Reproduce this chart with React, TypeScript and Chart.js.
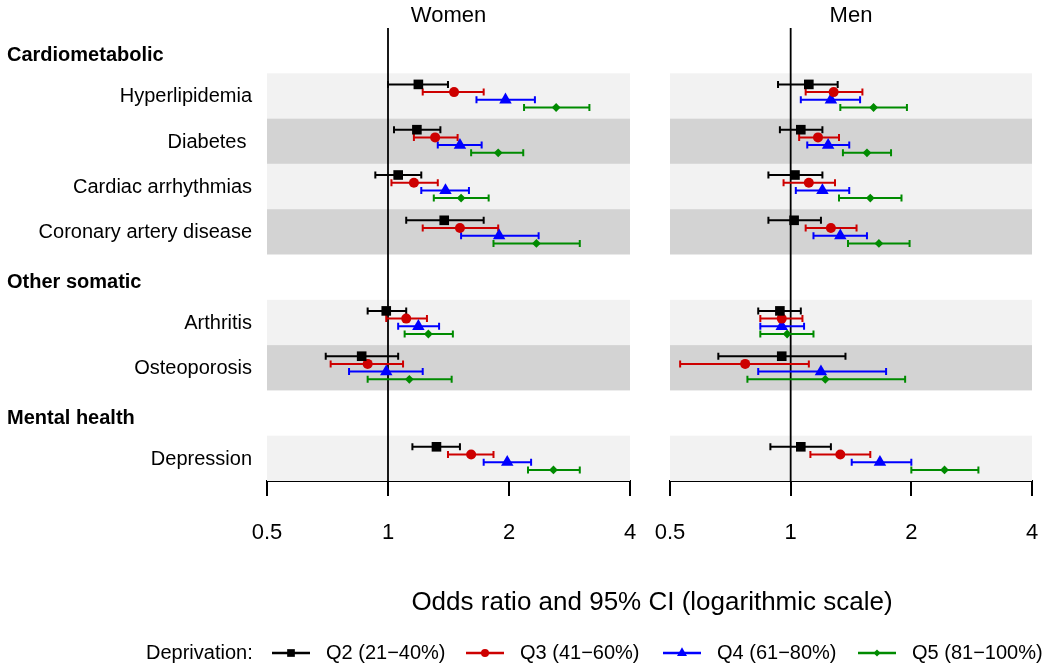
import React, { useEffect, useRef } from "react";
import { Chart, registerables } from "chart.js";

Chart.register(...registerables);

const FONT = "'Liberation Sans', Arial, Helvetica, sans-serif";

// ---------------- data ----------------
const panelTitles = ["Women", "Men"];
const groupLabels = ["Cardiometabolic", "Other somatic", "Mental health"];
const groupRows = [0, 5, 8];
const conditionLabels = [
  "Hyperlipidemia",
  "Diabetes ",
  "Cardiac arrhythmias",
  "Coronary artery disease",
  "Arthritis",
  "Osteoporosis",
  "Depression",
];
const conditionRows = [1, 2, 3, 4, 6, 7, 9];
const quintileLabels = ["Q2 (21−40%)", "Q3 (41−60%)", "Q4 (61−80%)", "Q5 (81−100%)"];
const tickValues = [0.5, 1, 2, 4];
const legendTitle = "Deprivation:";
const axisTitle = "Odds ratio and 95% CI (logarithmic scale)";

// rows: quintile Q2..Q5, columns: conditions in conditionLabels order
const womenOR = [
  [1.19, 1.18, 1.06, 1.38, 0.99, 0.86, 1.32],
  [1.46, 1.31, 1.16, 1.51, 1.11, 0.89, 1.61],
  [1.96, 1.51, 1.39, 1.89, 1.19, 0.99, 1.98],
  [2.62, 1.88, 1.52, 2.34, 1.26, 1.13, 2.58],
];
const womenLower = [
  [1.0, 1.035, 0.93, 1.11, 0.89, 0.7, 1.15],
  [1.22, 1.16, 1.02, 1.22, 0.99, 0.72, 1.41],
  [1.66, 1.33, 1.21, 1.52, 1.06, 0.8, 1.73],
  [2.18, 1.61, 1.3, 1.83, 1.1, 0.89, 2.23],
];
const womenUpper = [
  [1.41, 1.35, 1.21, 1.73, 1.11, 1.06, 1.51],
  [1.73, 1.49, 1.33, 1.88, 1.25, 1.09, 1.83],
  [2.32, 1.71, 1.59, 2.37, 1.34, 1.22, 2.27],
  [3.17, 2.17, 1.78, 3.0, 1.45, 1.44, 3.0],
];
const menOR = [
  [1.11, 1.06, 1.025, 1.02, 0.94, 0.95, 1.06],
  [1.28, 1.17, 1.11, 1.26, 0.95, 0.77, 1.33],
  [1.26, 1.24, 1.2, 1.33, 0.95, 1.19, 1.67],
  [1.61, 1.55, 1.58, 1.66, 0.98, 1.22, 2.42],
];
const menLower = [
  [0.93, 0.94, 0.88, 0.88, 0.83, 0.66, 0.89],
  [1.09, 1.05, 0.96, 1.09, 0.84, 0.53, 1.12],
  [1.06, 1.1, 1.03, 1.14, 0.84, 0.83, 1.42],
  [1.33, 1.35, 1.32, 1.39, 0.84, 0.78, 2.0],
];
const menUpper = [
  [1.31, 1.2, 1.2, 1.19, 1.06, 1.37, 1.26],
  [1.51, 1.32, 1.29, 1.46, 1.07, 1.11, 1.58],
  [1.49, 1.4, 1.4, 1.55, 1.08, 1.73, 2.0],
  [1.95, 1.78, 1.89, 1.98, 1.14, 1.93, 2.94],
];

// ---------------- styles ----------------
const seriesColors = ["#000000", "#CD0000", "#0000FF", "#008B00"];
const pointStyles = ["rect", "circle", "triangle", "rectRot"];
const pointRadii = [6.8, 5, 7.2, 4.4];
const rowOffsets = [-0.255, -0.085, 0.085, 0.255];
const bandColors = ["#F2F2F2", "#D3D3D3"];
const W = 1050;
const H = 668;
const AREA_TOP = 28;
const AREA_BOTTOM = 481;

function drawMarker(ctx, style, x, y, r, color) {
  ctx.save();
  ctx.fillStyle = color;
  ctx.beginPath();
  if (style === "rect") {
    const s = Math.SQRT1_2 * r;
    ctx.rect(x - s, y - s, 2 * s, 2 * s);
  } else if (style === "circle") {
    ctx.arc(x, y, r, 0, Math.PI * 2);
  } else if (style === "triangle") {
    for (let k = 0; k < 3; k++) {
      const a = (k * 2 * Math.PI) / 3;
      const px = x + Math.sin(a) * r;
      const py = y - Math.cos(a) * r;
      if (k === 0) ctx.moveTo(px, py);
      else ctx.lineTo(px, py);
    }
    ctx.closePath();
  } else {
    ctx.moveTo(x - r, y);
    ctx.lineTo(x, y - r);
    ctx.lineTo(x + r, y);
    ctx.lineTo(x, y + r);
    ctx.closePath();
  }
  ctx.fill();
  ctx.restore();
}

const panelPlugin = {
  id: "panelPlugin",
  beforeDatasetsDraw(chart) {
    const { ctx, chartArea } = chart;
    const xs = chart.scales.x;
    const ys = chart.scales.y;
    ctx.save();
    // bands
    conditionRows.forEach((row, i) => {
      const y0 = ys.getPixelForValue(row - 0.5);
      const y1 = ys.getPixelForValue(row + 0.5);
      ctx.fillStyle = bandColors[i % 2];
      ctx.fillRect(chartArea.left, y0, chartArea.right - chartArea.left, y1 - y0);
    });
    // reference line at OR = 1
    const x1 = xs.getPixelForValue(1);
    ctx.strokeStyle = "#000";
    ctx.lineWidth = 1.8;
    ctx.beginPath();
    ctx.moveTo(x1, chartArea.top);
    ctx.lineTo(x1, chartArea.bottom);
    ctx.stroke();
    // error bars
    chart.data.datasets.forEach((ds) => {
      ctx.strokeStyle = ds.borderColor;
      ctx.lineWidth = 2;
      ds.data.forEach((p) => {
        const y = ys.getPixelForValue(p.y);
        const a = xs.getPixelForValue(p.lo);
        const b = xs.getPixelForValue(p.hi);
        ctx.beginPath();
        ctx.moveTo(a, y);
        ctx.lineTo(b, y);
        ctx.moveTo(a, y - 3.5);
        ctx.lineTo(a, y + 3.5);
        ctx.moveTo(b, y - 3.5);
        ctx.lineTo(b, y + 3.5);
        ctx.stroke();
      });
    });
    ctx.restore();
  },
  afterDraw(chart) {
    const { ctx, chartArea } = chart;
    const ys = chart.scales.y;
    const opts = chart.options.plugins.panelPlugin || {};
    ctx.save();
    ctx.fillStyle = "#000";
    ctx.textBaseline = "middle";
    // panel title
    ctx.font = `22px ${FONT}`;
    ctx.textAlign = "center";
    ctx.fillText(opts.title, (chartArea.left + chartArea.right) / 2, chartArea.top - 12);
    if (opts.main) {
      // row labels
      ctx.font = `20px ${FONT}`;
      ctx.textAlign = "right";
      conditionRows.forEach((row, i) => {
        ctx.fillText(conditionLabels[i], chartArea.left - 15, ys.getPixelForValue(row) + 1);
      });
      ctx.font = `bold 20px ${FONT}`;
      ctx.textAlign = "left";
      groupRows.forEach((row, i) => {
        ctx.fillText(groupLabels[i], 7, ys.getPixelForValue(row) + 5);
      });
      // axis title
      ctx.font = `26px ${FONT}`;
      ctx.textAlign = "center";
      ctx.fillText(axisTitle, 652, 603);
      // legend
      ctx.font = `20px ${FONT}`;
      ctx.textAlign = "left";
      const ly = 653;
      ctx.fillText(legendTitle, 146, ly);
      const starts = [272, 466, 663, 858];
      quintileLabels.forEach((lab, q) => {
        const x0 = starts[q];
        ctx.strokeStyle = seriesColors[q];
        ctx.lineWidth = 2.5;
        ctx.beginPath();
        ctx.moveTo(x0, ly);
        ctx.lineTo(x0 + 38, ly);
        ctx.stroke();
        drawMarker(ctx, pointStyles[q], x0 + 19, ly, pointRadii[q] * 0.8, seriesColors[q]);
        ctx.fillStyle = "#000";
        ctx.fillText(lab, x0 + 54, ly);
      });
    }
    ctx.restore();
  },
};

function makeConfig(title, or, lower, upper, left, right, main) {
  const datasets = quintileLabels.map((lab, q) => ({
    label: lab,
    data: conditionRows.map((row, i) => ({
      x: or[q][i],
      y: row + rowOffsets[q],
      lo: lower[q][i],
      hi: upper[q][i],
    })),
    pointStyle: pointStyles[q],
    pointRadius: pointRadii[q],
    pointBackgroundColor: seriesColors[q],
    pointBorderWidth: 0,
    borderColor: seriesColors[q],
    backgroundColor: seriesColors[q],
    showLine: false,
  }));
  return {
    type: "scatter",
    data: { datasets },
    plugins: [panelPlugin],
    options: {
      responsive: false,
      animation: false,
      devicePixelRatio: 1,
      events: [],
      layout: { padding: { left, right: W - right, top: AREA_TOP, bottom: 0 } },
      scales: {
        x: {
          type: "logarithmic",
          min: 0.5,
          max: 4,
          afterBuildTicks: (s) => {
            s.ticks = tickValues.map((v) => ({ value: v }));
          },
          afterFit: (s) => {
            s.height = H - AREA_BOTTOM;
            s.paddingLeft = 0;
            s.paddingRight = 0;
          },
          ticks: {
            callback: (v) => String(v),
            font: { size: 22, family: FONT },
            color: "#000",
            padding: 24,
            maxRotation: 0,
            autoSkip: false,
          },
          grid: {
            drawOnChartArea: false,
            drawTicks: true,
            tickLength: 15,
            color: "#000",
            lineWidth: 2,
          },
          border: { display: true, color: "#000", width: 2 },
        },
        y: { type: "linear", min: -0.5, max: 9.5, reverse: true, display: false },
      },
      plugins: {
        legend: { display: false },
        tooltip: { enabled: false },
        panelPlugin: { title, main },
      },
    },
  };
}

export default function App() {
  const womenRef = useRef(null);
  const menRef = useRef(null);
  useEffect(() => {
    Chart.defaults.font.family = FONT;
    const c1 = new Chart(
      womenRef.current,
      makeConfig(panelTitles[0], womenOR, womenLower, womenUpper, 267, 630, true)
    );
    const c2 = new Chart(
      menRef.current,
      makeConfig(panelTitles[1], menOR, menLower, menUpper, 670, 1032, false)
    );
    return () => {
      c1.destroy();
      c2.destroy();
    };
  }, []);
  const canvasStyle = { position: "absolute", left: 0, top: 0 } as React.CSSProperties;
  return (
    <div style={{ position: "absolute", left: 0, top: 0, width: W, height: H, background: "#fff" }}>
      <canvas ref={womenRef} width={W} height={H} style={canvasStyle} />
      <canvas ref={menRef} width={W} height={H} style={canvasStyle} />
    </div>
  );
}
